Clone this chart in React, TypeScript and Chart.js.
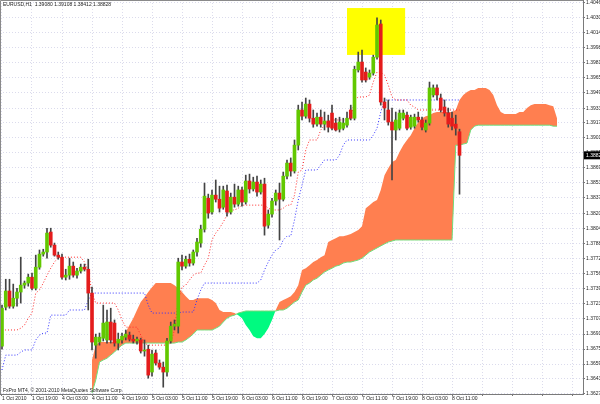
import React, { useEffect, useRef } from "react";
import { Chart, registerables } from "chart.js";

Chart.register(...registerables);

// ---- time axis (H1 bars, a label every 8 bars) ----
const timeLabels = [
  "1 Oct 2010", "1 Oct 19:00", "4 Oct 03:00", "4 Oct 11:00", "4 Oct 19:00",
  "5 Oct 03:00", "5 Oct 11:00", "5 Oct 19:00", "6 Oct 03:00", "6 Oct 11:00",
  "6 Oct 19:00", "7 Oct 03:00", "7 Oct 11:00", "7 Oct 19:00", "8 Oct 03:00", "8 Oct 11:00",
];
const gridBars = [0, 8, 16, 24, 32, 40, 48, 56, 64, 72, 80, 88, 96, 104, 112, 120, 128, 136, 144, 152];

// ---- price axis labels ----
const priceTicks = [
  1.4046, 1.403, 1.4014, 1.3998, 1.39816, 1.39656, 1.39496, 1.39332, 1.39176, 1.39016,
  1.38856, 1.38696, 1.38535, 1.38375, 1.38209, 1.38046, 1.37886, 1.3772, 1.3756, 1.37398,
  1.37238, 1.37077, 1.36915, 1.36755, 1.36595, 1.36435, 1.36275,
];

// ---- EURUSD H1 candles ----
const opens = [
  1.36786, 1.37203, 1.37376, 1.37214, 1.37299, 1.37365, 1.37439, 1.37461, 1.37524, 1.37406,
  1.37631, 1.37771, 1.37793, 1.38007, 1.37867, 1.3776, 1.37738, 1.37524, 1.37546, 1.37642,
  1.37546, 1.3759, 1.37631, 1.37609, 1.37354, 1.36797, 1.3683, 1.36871, 1.36852, 1.37044,
  1.37033, 1.36819, 1.36852, 1.36882, 1.36904, 1.3686, 1.36841, 1.36852, 1.36734, 1.36753,
  1.36509, 1.36712, 1.36605, 1.36561, 1.36509, 1.36841, 1.37, 1.37, 1.37686, 1.37642,
  1.37716, 1.37675, 1.37793, 1.37889, 1.38037, 1.38369, 1.38221, 1.38402, 1.38358, 1.38273,
  1.38446, 1.38221, 1.3838, 1.38306, 1.38457, 1.38328, 1.38553, 1.38468, 1.38542, 1.38435,
  1.3852, 1.38081, 1.38199, 1.38339, 1.38424, 1.38358, 1.38605, 1.38745, 1.3866, 1.38937,
  1.39313, 1.39247, 1.39376, 1.39225, 1.39162, 1.39236, 1.39162, 1.39195, 1.3928, 1.39173,
  1.39107, 1.39118, 1.39151, 1.39313, 1.39225, 1.39741, 1.39826, 1.39719, 1.39664, 1.39708,
  1.39878, 1.40233, 1.39398, 1.39313, 1.39184, 1.39099, 1.39118, 1.39225, 1.39258, 1.39129,
  1.3914, 1.39236, 1.39206, 1.39099, 1.39173, 1.39474, 1.39549, 1.39441, 1.39345, 1.3928,
  1.39225, 1.39162, 1.3908,
];
const highs = [
  1.37225, 1.37502, 1.37502, 1.3745, 1.37406, 1.37738, 1.37483, 1.37557, 1.37568, 1.3776,
  1.37815, 1.37823, 1.38048, 1.38048, 1.37889, 1.37793, 1.37771, 1.37609, 1.37727, 1.37686,
  1.3762, 1.37664, 1.37664, 1.37716, 1.37417, 1.36915, 1.36926, 1.37225, 1.37173, 1.37192,
  1.37066, 1.36926, 1.36926, 1.36959, 1.36937, 1.36904, 1.36882, 1.36871, 1.36852, 1.36797,
  1.36745, 1.36745, 1.36638, 1.36616, 1.36871, 1.37044, 1.37066, 1.37727, 1.3776, 1.37749,
  1.37771, 1.37815, 1.37941, 1.38081, 1.38531, 1.38413, 1.38457, 1.38564, 1.38498, 1.38498,
  1.38509, 1.38424, 1.3852, 1.38498, 1.38487, 1.38616, 1.38627, 1.38594, 1.38605, 1.38564,
  1.38583, 1.38243, 1.38369, 1.38457, 1.38531, 1.38649, 1.38778, 1.388, 1.38992, 1.39365,
  1.39398, 1.39441, 1.3942, 1.39313, 1.3928, 1.39313, 1.39291, 1.39258, 1.39365, 1.39225,
  1.39236, 1.39225, 1.39291, 1.39365, 1.39782, 1.39933, 1.39955, 1.39763, 1.39741, 1.399,
  1.40298, 1.40276, 1.39441, 1.3942, 1.39334, 1.39291, 1.39313, 1.39313, 1.39291, 1.39258,
  1.39269, 1.39291, 1.39236, 1.39206, 1.39612, 1.39581, 1.39581, 1.39484, 1.3942, 1.39334,
  1.39291, 1.39258, 1.39108,
];
const lows = [
  1.36753, 1.37173, 1.37192, 1.37192, 1.37214, 1.37247, 1.37406, 1.37428, 1.37387, 1.37387,
  1.37609, 1.37749, 1.37727, 1.37845, 1.37749, 1.37716, 1.37502, 1.37494, 1.37502, 1.37524,
  1.37513, 1.37568, 1.3759, 1.37173, 1.36745, 1.36657, 1.36797, 1.36841, 1.36819, 1.36819,
  1.36786, 1.36745, 1.36819, 1.36852, 1.36841, 1.36819, 1.36808, 1.36712, 1.36679, 1.36443,
  1.36465, 1.36583, 1.36539, 1.36347, 1.36465, 1.36819, 1.36959, 1.36926, 1.37601, 1.3762,
  1.37642, 1.37653, 1.37749, 1.37845, 1.38007, 1.38155, 1.38199, 1.38328, 1.38221, 1.38251,
  1.38177, 1.38199, 1.38273, 1.38284, 1.38284, 1.38306, 1.38424, 1.38446, 1.38391, 1.38413,
  1.37974, 1.38048, 1.38166, 1.38295, 1.37922, 1.38339, 1.38575, 1.38605, 1.38638, 1.38885,
  1.39206, 1.39225, 1.39184, 1.39129, 1.3914, 1.39129, 1.39099, 1.39077, 1.39099, 1.39088,
  1.39077, 1.39099, 1.39129, 1.39206, 1.39206, 1.39719, 1.39612, 1.39612, 1.39642, 1.39686,
  1.39857, 1.39365, 1.39206, 1.39151, 1.38564, 1.38992, 1.39099, 1.39206, 1.39099, 1.39107,
  1.39118, 1.39184, 1.39099, 1.39077, 1.39151, 1.39452, 1.3942, 1.39291, 1.39247, 1.39129,
  1.39099, 1.39044, 1.38412,
];
const closes = [
  1.37192, 1.37376, 1.37214, 1.37299, 1.37365, 1.37439, 1.37461, 1.37524, 1.37406, 1.37631,
  1.37771, 1.37793, 1.37996, 1.37867, 1.3776, 1.37738, 1.37524, 1.37546, 1.37642, 1.37546,
  1.3759, 1.37631, 1.37609, 1.37354, 1.3683, 1.36882, 1.36882, 1.37033, 1.37044, 1.36852,
  1.36819, 1.3686, 1.36893, 1.36915, 1.3686, 1.36841, 1.3686, 1.36734, 1.36745, 1.36476,
  1.36701, 1.36605, 1.36561, 1.36509, 1.36841, 1.37, 1.37022, 1.37686, 1.37642, 1.37716,
  1.37675, 1.37793, 1.379, 1.38037, 1.38391, 1.3821, 1.38402, 1.38358, 1.38262, 1.38457,
  1.38221, 1.3838, 1.38306, 1.38457, 1.38328, 1.38553, 1.38468, 1.38542, 1.38435, 1.3852,
  1.3807, 1.38199, 1.38339, 1.38424, 1.38358, 1.38605, 1.38745, 1.3866, 1.38937, 1.39313,
  1.39247, 1.39376, 1.39225, 1.39162, 1.39236, 1.39162, 1.39195, 1.39129, 1.39118, 1.39099,
  1.39184, 1.39173, 1.39225, 1.39225, 1.39748, 1.39826, 1.39634, 1.39634, 1.39708, 1.39878,
  1.40222, 1.39398, 1.39334, 1.39184, 1.39099, 1.39206, 1.3928, 1.3928, 1.39118, 1.39236,
  1.39236, 1.39206, 1.39129, 1.39173, 1.39549, 1.39549, 1.39474, 1.39313, 1.3928, 1.39162,
  1.3914, 1.39118, 1.38828,
];

// ---- Ichimoku lines ----
const tenkan = [
  1.36959, 1.36959, 1.36959, 1.36959, 1.36959, 1.36978, 1.37011, 1.37085, 1.3714, 1.37354,
  1.37387, 1.37461, 1.37546, 1.3762, 1.37686, 1.37738, 1.37738, 1.37738, 1.37738, 1.37738,
  1.37738, 1.37738, 1.37686, 1.37601, 1.37354, 1.37247, 1.37247, 1.37247, 1.37247, 1.37247,
  1.37247, 1.37173, 1.37066, 1.36989, 1.36989, 1.36989, 1.36989, 1.36904, 1.36819, 1.36797,
  1.36797, 1.36797, 1.36797, 1.36797, 1.36797, 1.36819, 1.36959, 1.3728, 1.37417, 1.37439,
  1.37494, 1.37546, 1.37568, 1.37568, 1.37653, 1.37727, 1.37922, 1.37996, 1.38048, 1.38114,
  1.38188, 1.38243, 1.38243, 1.38262, 1.38295, 1.38295, 1.38295, 1.38295, 1.38295, 1.38295,
  1.38295, 1.38262, 1.38243, 1.38243, 1.38243, 1.38262, 1.38295, 1.38295, 1.38402, 1.38649,
  1.38671, 1.38885, 1.38992, 1.38992, 1.38992, 1.39099, 1.39151, 1.39195, 1.39206, 1.39206,
  1.39206, 1.39206, 1.39206, 1.39225, 1.3942, 1.39452, 1.39452, 1.39452, 1.39474, 1.39612,
  1.39719, 1.39719, 1.39686, 1.39581, 1.39452, 1.3942, 1.3942, 1.3942, 1.3942, 1.39365,
  1.39345, 1.39313, 1.39313, 1.39313, 1.39313, 1.39313, 1.39313, 1.39313, 1.39313, 1.39313,
  1.39313, 1.39313, 1.39313,
];
const kijun = [
  1.36531, 1.3669, 1.3669, 1.3669, 1.3669, 1.36723, 1.36745, 1.36745, 1.36745, 1.36852,
  1.36904, 1.36926, 1.36926, 1.37118, 1.37118, 1.37118, 1.37118, 1.37118, 1.37173, 1.37173,
  1.37173, 1.37173, 1.37173, 1.3728, 1.37354, 1.37354, 1.37354, 1.37354, 1.37354, 1.37354,
  1.37354, 1.37354, 1.37354, 1.37354, 1.37354, 1.37354, 1.37354, 1.37354, 1.37354, 1.37225,
  1.3714, 1.3714, 1.3714, 1.3714, 1.3714, 1.3714, 1.3714, 1.3714, 1.37151, 1.37151,
  1.37151, 1.37151, 1.3728, 1.37387, 1.37461, 1.37461, 1.37461, 1.37461, 1.37461, 1.37461,
  1.37461, 1.37461, 1.37461, 1.37461, 1.37461, 1.37461, 1.37461, 1.37461, 1.37461, 1.37494,
  1.37601, 1.37686, 1.3776, 1.37815, 1.37837, 1.37922, 1.37963, 1.37963, 1.38136, 1.3835,
  1.38509, 1.38671, 1.38671, 1.38671, 1.38671, 1.38726, 1.38778, 1.38778, 1.38778, 1.38778,
  1.3883, 1.38937, 1.38992, 1.38992, 1.38992, 1.38992, 1.38992, 1.38992, 1.38992, 1.39044,
  1.39118, 1.39291, 1.3942, 1.3942, 1.3942, 1.3942, 1.3942, 1.3942, 1.3942, 1.3942,
  1.3942, 1.3942, 1.3942, 1.3942, 1.3942, 1.3942, 1.3942, 1.3942, 1.3942, 1.3942,
  1.3942, 1.3942, 1.3942,
];
const cloudStart = 24; // first bar index of the plotted cloud
const senkouA = [
  1.36638, 1.36797, 1.3683, 1.3683, 1.3683, 1.3683, 1.3683, 1.36852, 1.36871, 1.36937,
  1.37011, 1.37085, 1.37173, 1.37258, 1.3731, 1.37365, 1.37417, 1.37461, 1.37461, 1.37461,
  1.37461, 1.37461, 1.37439, 1.37406, 1.37365, 1.37321, 1.3728, 1.3728, 1.37299, 1.37299,
  1.37299, 1.37299, 1.3728, 1.37247, 1.37173, 1.37151, 1.37151, 1.37151, 1.3714, 1.37118,
  1.37085, 1.37011, 1.36959, 1.36893, 1.36871, 1.36871, 1.36915, 1.36978, 1.37066, 1.37173,
  1.37258, 1.3728, 1.37299, 1.37321, 1.37365, 1.37439, 1.37601, 1.3762, 1.37653, 1.37686,
  1.37708, 1.37738, 1.3776, 1.379, 1.37922, 1.37941, 1.37963, 1.37963, 1.37974, 1.37985,
  1.38007, 1.38029, 1.3807, 1.38262, 1.38295, 1.38328, 1.3835, 1.38457, 1.38616, 1.3869,
  1.38756, 1.38778, 1.38863, 1.38937, 1.38992, 1.39044, 1.39118, 1.39184, 1.39225, 1.39247,
  1.39258, 1.3928, 1.39291, 1.39291, 1.39291, 1.39291, 1.39291, 1.39313, 1.3942, 1.39474,
  1.39506, 1.39527, 1.39527, 1.39549, 1.39549, 1.39549, 1.39527, 1.39474, 1.39365, 1.39291,
  1.39269, 1.39269, 1.39269, 1.39269, 1.39291, 1.39291, 1.39334, 1.39365, 1.39376, 1.39376,
  1.39376, 1.39376, 1.39365, 1.39354, 1.39225,
];
const senkouB = [
  1.36284, 1.36424, 1.36616, 1.36638, 1.36657, 1.3669, 1.36723, 1.36764, 1.36797, 1.36819,
  1.36819, 1.36819, 1.36819, 1.36819, 1.36819, 1.36819, 1.36819, 1.36819, 1.36819, 1.36819,
  1.36819, 1.36819, 1.36819, 1.3683, 1.3683, 1.36852, 1.36882, 1.36915, 1.36959, 1.36959,
  1.36959, 1.36959, 1.36959, 1.36978, 1.37, 1.37044, 1.37085, 1.37107, 1.37118, 1.3714,
  1.37151, 1.37162, 1.37162, 1.37162, 1.37162, 1.37162, 1.37162, 1.37162, 1.37162, 1.37162,
  1.37173, 1.37173, 1.37192, 1.37225, 1.37258, 1.3728, 1.37365, 1.37439, 1.37461, 1.37494,
  1.37513, 1.37546, 1.37579, 1.37601, 1.3762, 1.37642, 1.37653, 1.37675, 1.37686, 1.37686,
  1.37697, 1.37708, 1.37727, 1.3776, 1.37793, 1.37815, 1.37837, 1.37859, 1.3788, 1.379,
  1.37911, 1.37922, 1.37922, 1.37922, 1.37922, 1.37922, 1.37922, 1.37922, 1.37922, 1.37922,
  1.37922, 1.37922, 1.37922, 1.37922, 1.37922, 1.37922, 1.37922, 1.38937, 1.38937, 1.38948,
  1.38959, 1.39099, 1.3914, 1.39151, 1.39151, 1.39151, 1.39151, 1.39151, 1.39151, 1.39151,
  1.39151, 1.39151, 1.39151, 1.39151, 1.39151, 1.39151, 1.39151, 1.39151, 1.39151, 1.39151,
  1.39151, 1.39151, 1.39151, 1.3914, 1.3914,
];

// ---- texts & highlight ----
const symbolTitle = "EURUSD,H1  1.39080 1.39108 1.38412 1.38828";
const copyright = "FxPro MT4, \u00a9 2001-2010 MetaQuotes Software Corp.";
const highlight = { fromBar: 92, toBar: 107.5, top: 1.40404, bottom: 1.39902 };

const FONT = '"Liberation Sans", Arial, sans-serif';
const GRID = "rgba(190,190,220,0.55)";

export default function App() {
  const ref = useRef<HTMLCanvasElement>(null);

  useEffect(() => {
    const canvas = ref.current;
    if (!canvas) return;
    const bull = "#62c800";
    const bear = "#e41c1c";
    const bodyColors = closes.map((c, i) => (c >= opens[i] ? bull : bear));

    const mt4Plugin = {
      id: "mt4",
      beforeDatasetsDraw(chart: any) {
        const { ctx, scales } = chart;
        const x = scales.x, y = scales.y;
        const x0 = x.getPixelForValue(highlight.fromBar);
        const x1 = x.getPixelForValue(highlight.toBar);
        const y0 = y.getPixelForValue(highlight.top);
        const y1 = y.getPixelForValue(highlight.bottom);
        ctx.save();
        ctx.fillStyle = "#ffff00";
        ctx.fillRect(x0, y0, x1 - x0, y1 - y0);
        ctx.restore();
      },
      afterDraw(chart: any) {
        const { ctx, chartArea, scales } = chart;
        const y = scales.y;
        ctx.save();
        ctx.strokeStyle = "#8a8a8a";
        ctx.lineWidth = 1;
        ctx.beginPath();
        ctx.moveTo(0.5, chartArea.bottom);
        ctx.lineTo(0.5, 0.5);
        ctx.lineTo(chartArea.right, 0.5);
        ctx.stroke();
        ctx.fillStyle = "#222";
        ctx.font = `5px ${FONT}`;
        ctx.textBaseline = "middle";
        ctx.textAlign = "left";
        ctx.fillText(symbolTitle, 3, 5);
        ctx.fillText(copyright, 3, 390.5);
        const last = closes[closes.length - 1];
        const py = y.getPixelForValue(last);
        ctx.fillStyle = "#000";
        ctx.fillRect(chartArea.right + 1, py - 4, 20, 8);
        ctx.fillStyle = "#fff";
        ctx.fillText(last.toFixed(5), chartArea.right + 3, py);
        ctx.restore();
      },
    };

    const chart = new Chart(canvas, {
      type: "bar",
      data: {
        datasets: [
          {
            type: "bar",
            label: "body",
            data: closes.map((c, i) => ({ x: i, y: [opens[i], c] })) as any,
            backgroundColor: bodyColors,
            borderWidth: 0,
            barThickness: 3,
            minBarLength: 1,
            grouped: false,
            order: 1,
          } as any,
          {
            type: "bar",
            label: "wick",
            data: closes.map((_, i) => ({ x: i, y: [lows[i], highs[i]] })) as any,
            backgroundColor: "#444444",
            borderWidth: 0,
            barThickness: 1,
            grouped: false,
            order: 2,
          } as any,
          {
            type: "line",
            label: "tenkan",
            data: tenkan.map((v, i) => ({ x: i, y: v })),
            borderColor: "#ff2a2a",
            borderWidth: 1,
            borderDash: [1, 2],
            pointRadius: 0,
            tension: 0,
            fill: false,
            order: 3,
          } as any,
          {
            type: "line",
            label: "kijun",
            data: kijun.map((v, i) => ({ x: i, y: v })),
            borderColor: "#3030ff",
            borderWidth: 1,
            borderDash: [1, 2],
            pointRadius: 0,
            tension: 0,
            fill: false,
            order: 4,
          } as any,
          {
            type: "line",
            label: "senkouB",
            data: senkouB.map((v, i) => ({ x: cloudStart + i, y: v })),
            borderColor: "#78d878",
            borderWidth: 1,
            pointRadius: 0,
            tension: 0,
            fill: false,
            order: 9,
          } as any,
          {
            type: "line",
            label: "senkouA",
            data: senkouA.map((v, i) => ({ x: cloudStart + i, y: v })),
            borderColor: "rgba(0,0,0,0)",
            borderWidth: 1,
            pointRadius: 0,
            tension: 0,
            fill: { target: 4, above: "#ff7f50", below: "#00fa80" },
            order: 10,
          } as any,
        ],
      },
      options: {
        animation: false,
        responsive: false,
        devicePixelRatio: 1,
        events: [],
        layout: { padding: 0, autoPadding: false } as any,
        plugins: { legend: { display: false }, tooltip: { enabled: false }, title: { display: false } },
        scales: {
          x: {
            type: "linear",
            min: -0.533,
            max: 154.93,
            offset: false,
            afterBuildTicks: (s: any) => {
              s.ticks = gridBars.map((v) => ({ value: v }));
            },
            afterFit: (s: any) => {
              s.height = 10;
              s.paddingLeft = 0;
              s.paddingRight = 0;
            },
            ticks: {
              autoSkip: false,
              maxRotation: 0,
              minRotation: 0,
              align: "start",
              padding: 0,
              color: "#222",
              font: { family: FONT, size: 5 },
              callback: (_v: any, i: number) => timeLabels[i] ?? "",
            },
            grid: { color: GRID, lineWidth: 1, tickLength: 2, offset: false, tickColor: "#777" },
            border: { display: true, color: "#7a7a7a", dash: [1, 2] },
          } as any,
          y: {
            type: "linear",
            position: "right",
            min: 1.36274,
            max: 1.4049,
            afterBuildTicks: (s: any) => {
              s.ticks = priceTicks.map((v) => ({ value: v }));
            },
            afterFit: (s: any) => {
              s.width = 17;
              s.paddingTop = 0;
              s.paddingBottom = 0;
            },
            ticks: {
              autoSkip: false,
              padding: 1,
              color: "#222",
              font: { family: FONT, size: 5 },
              callback: (_v: any, i: number) => priceTicks[i].toFixed(5),
            },
            grid: { color: GRID, lineWidth: 1, tickLength: 2, tickColor: "#777" },
            border: { display: true, color: "#7a7a7a", dash: [1, 2] },
          } as any,
        },
      },
      plugins: [mt4Plugin],
    });
    return () => chart.destroy();
  }, []);

  return (
    <div style={{ position: "fixed", left: 0, top: 0, width: 600, height: 404, background: "#fff" }}>
      <canvas ref={ref} width={600} height={404} style={{ display: "block" }} />
    </div>
  );
}
